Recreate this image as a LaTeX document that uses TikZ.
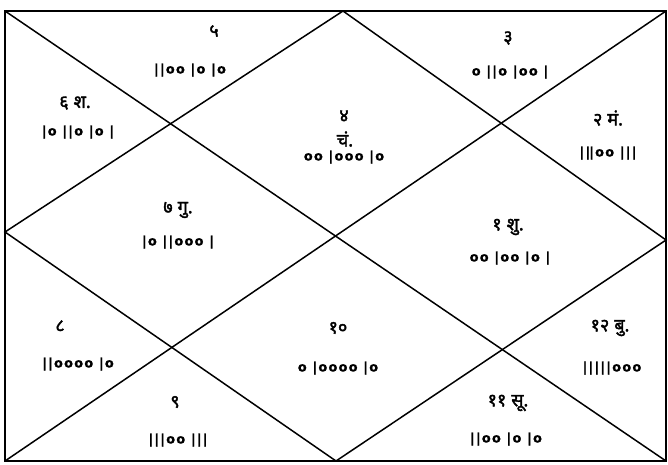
\documentclass[tikz,border=0pt]{standalone}
\usepackage{fontspec}
\newfontfamily\devfont[Script=Devanagari,FakeBold=2]{Noto Sans}
\newfontfamily\barfont[LetterSpace=9,BoldFeatures={FakeBold=1}]{DejaVu Sans}
\newcommand{\gap}{\hspace{5pt}}

\begin{document}
\begin{tikzpicture}[x=1pt,y=-1pt,
    house/.style={font=\devfont\fontsize{18}{20}\selectfont, inner sep=1pt},
    bindu/.style={font=\barfont\bfseries\fontsize{13}{14}\selectfont, inner sep=1pt}]

    \useasboundingbox (0,0) rectangle (668,464);

    % Frame corners and midpoints
    \coordinate (tl) at (5,11);
    \coordinate (tr) at (666,11);
    \coordinate (bl) at (5,461);
    \coordinate (br) at (666,461);
    \coordinate (tm) at (343,11);
    \coordinate (bm) at (336,461);
    \coordinate (lm) at (5,232);
    \coordinate (rm) at (666,240);

    % Outer frame
    \draw[line width=1.8pt] (tl) rectangle (br);
    % Diagonals
    \draw[line width=1.5pt] (tl) -- (br);
    \draw[line width=1.5pt] (bl) -- (tr);
    % Inner diamond
    \draw[line width=1.5pt] (tm) -- (rm) -- (bm) -- (lm) -- cycle;

    % Top houses
    \node[house] (n5) at (214,31) {५};
    \node[bindu] (s5) at (190,70) {||oo |o |o};
    \node[house] (n3) at (508,38) {३};
    \node[bindu] (s3) at (510,72) {o ||o |oo |};
    % Upper side houses
    \node[house] (n6) at (75,103) {६\gap श.};
    \node[bindu] (s6) at (78,132) {|o ||o |o |};
    \node[house] (n2) at (608,118) {२\gap मं.};
    \node[bindu] (s2) at (608,153) {||\kern-1pt|oo |||};
    % Centre top
    \node[house] (n4) at (344,116) {४};
    \node[house] (p4) at (345,139) {चं.};
    \node[bindu] (s4) at (344,157) {oo |ooo |o};
    % Middle houses
    \node[house] (n7) at (178,210) {७\gap गु.};
    \node[bindu] (s7) at (178,242) {|o ||ooo |};
    \node[house] (n1) at (508,227) {१\gap शु.};
    \node[bindu] (s1) at (510,258) {oo |oo |o |};
    % Lower side houses
    \node[house] (n8) at (60,326) {८};
    \node[bindu] (s8) at (78,364) {||oooo |o};
    \node[house] (n12) at (610,328) {१२\gap बु.};
    \node[bindu] (s12) at (612,368) {|||||ooo};
    % Centre bottom
    \node[house] (n10) at (338,328) {१०};
    \node[bindu] (s10) at (338,368) {o |oooo |o};
    % Bottom houses
    \node[house] (n9) at (175,402) {९};
    \node[bindu] (s9) at (178,440) {|||oo |||};
    \node[house] (n11) at (508,403) {११\gap सू.};
    \node[bindu] (s11) at (506,439) {||oo |o |o};
\end{tikzpicture}
\end{document}
